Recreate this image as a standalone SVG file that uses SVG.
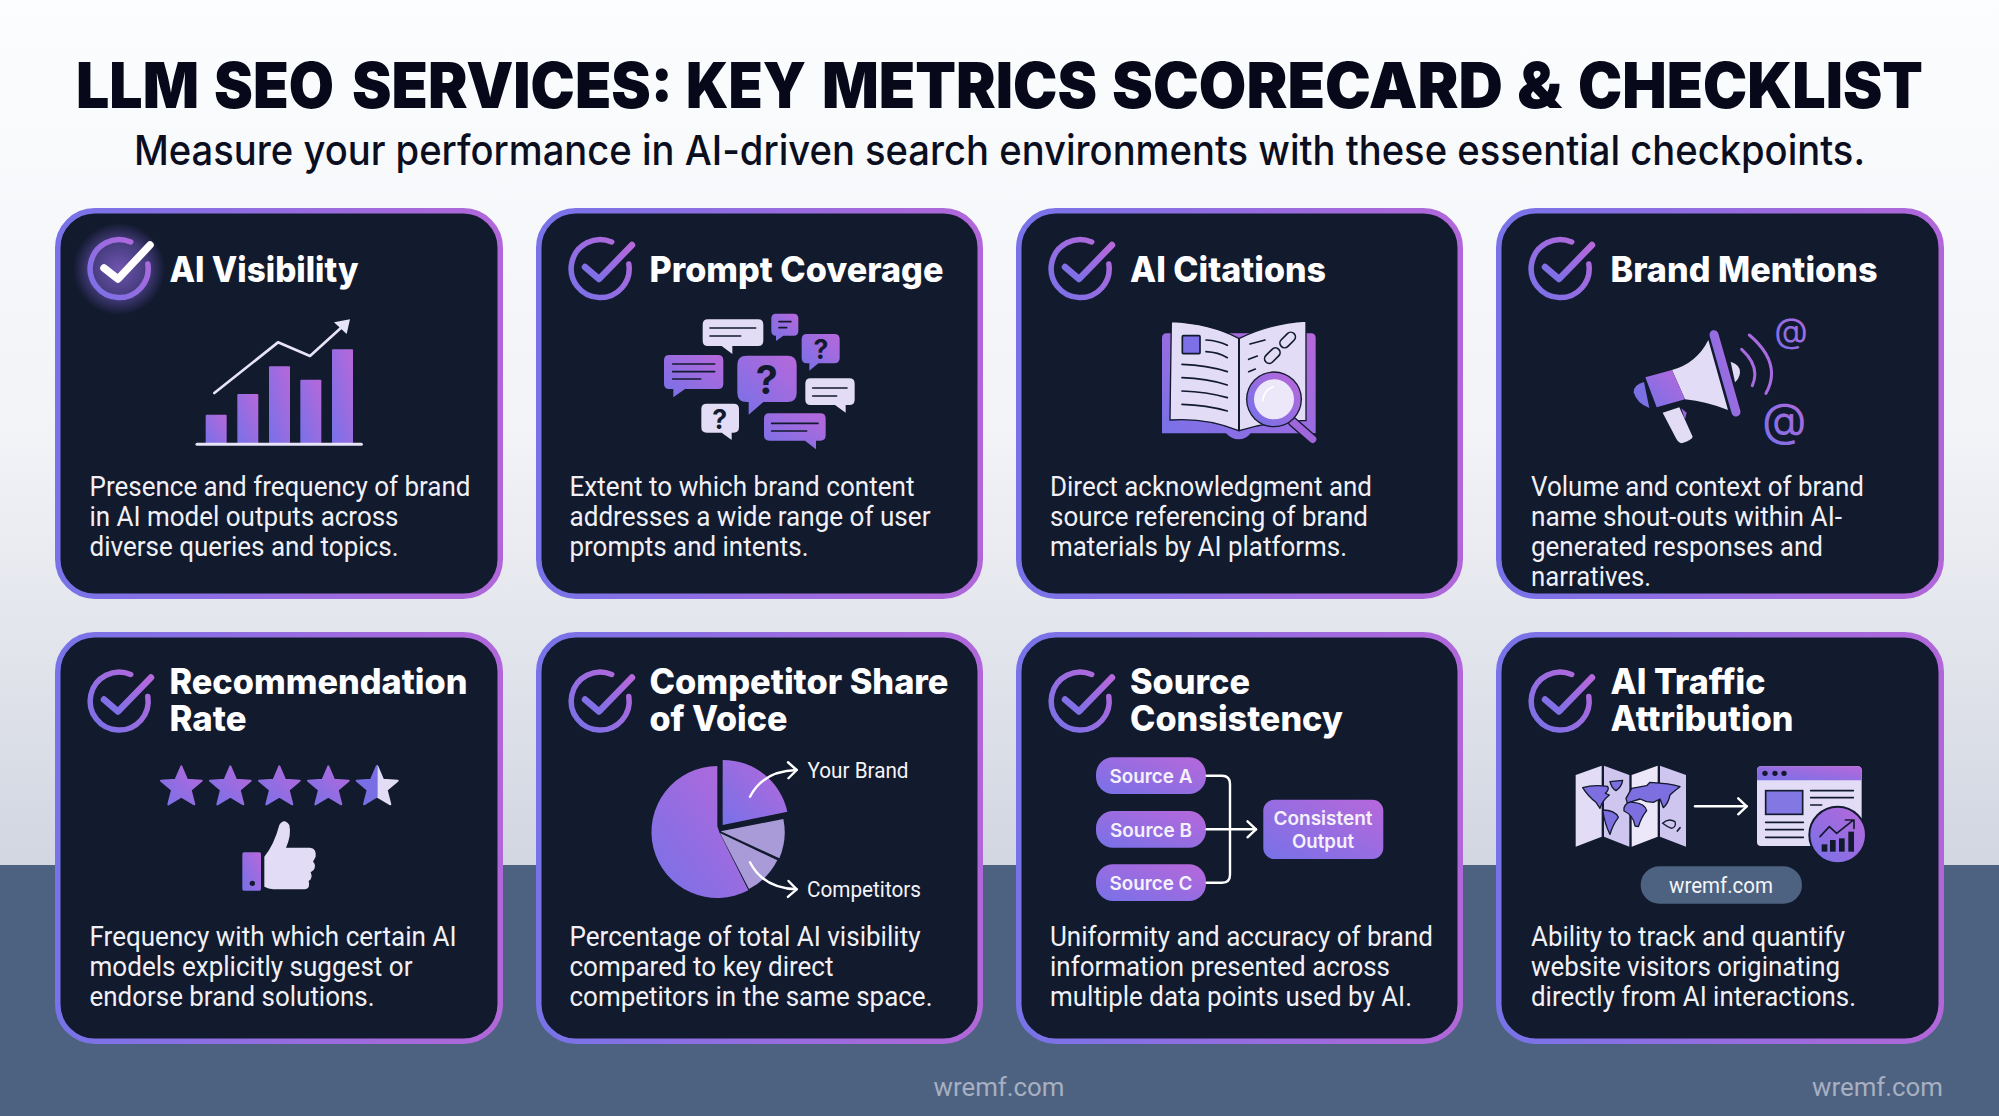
<svg xmlns="http://www.w3.org/2000/svg" width="1999" height="1116" viewBox="0 0 1999 1116">
<style>
text{font-family:"Roboto","Liberation Sans",sans-serif}
.h,.t,.lab,.sub{font-family:"Inter","Liberation Sans",sans-serif}
.h{font-size:63px;font-weight:900;fill:#07091a}
.sub{font-size:41px;font-weight:500;fill:#0b0e1e}
.card{fill:#121a2e;stroke:url(#border);stroke-width:5.5}
.t{font-size:35px;font-weight:800;fill:#fff}
.b{font-size:27px;fill:#f0f0f6}
.lab{font-size:19px;font-weight:600;fill:#f4f1fc;text-anchor:middle}
.cap{font-size:22px;fill:#f4f4f8}
.foot{font-size:26px;fill:#a7afc1}
.p{fill:url(#g)}
.l{fill:#e2dcf6}
.d{fill:none;stroke:#121a2e;stroke-width:5;stroke-linecap:round;stroke-linejoin:round}
.q{font-family:"Inter","Liberation Sans",sans-serif;font-weight:700;fill:#121a2e;text-anchor:middle}
.c{fill:none;stroke:#fff;stroke-width:2.4;stroke-linecap:round;stroke-linejoin:round}
</style>
<defs>
<linearGradient id="bg" x1="0" y1="0" x2="0" y2="1"><stop offset="0" stop-color="#fcfdfe"/><stop offset=".5" stop-color="#f2f3f7"/><stop offset="1" stop-color="#d2d6e1"/></linearGradient>
<linearGradient id="border" x1="0" y1="0" x2="1" y2="0"><stop offset="0" stop-color="#7873e8"/><stop offset="1" stop-color="#b167d9"/></linearGradient>
<linearGradient id="g" x1="0" y1="1" x2="1" y2="0"><stop offset="0" stop-color="#7771e8"/><stop offset="1" stop-color="#b768da"/></linearGradient>
<linearGradient id="g2" x1="0" y1="1" x2="0" y2="0"><stop offset="0" stop-color="#7b70e6"/><stop offset="1" stop-color="#ad68db"/></linearGradient>
<radialGradient id="glow"><stop offset="0" stop-color="#9a6ee8" stop-opacity=".7"/><stop offset=".65" stop-color="#8a6ae8" stop-opacity=".4"/><stop offset="1" stop-color="#8a6ae8" stop-opacity="0"/></radialGradient>
<marker id="chev" markerUnits="userSpaceOnUse" markerWidth="24" markerHeight="24" refX="12" refY="12" orient="auto" overflow="visible"><path d="M3.5 4 L12 12 L3.5 20" fill="none" stroke="#fff" stroke-width="2.4" stroke-linecap="round" stroke-linejoin="round"/></marker>
<g id="ring"><path d="M11.7 -27A29 29 0 1 0 28.8 -5" fill="none" stroke="url(#g)" stroke-width="5.5" stroke-linecap="round"/></g>
<g id="chk"><use href="#ring"/><path d="M-15 -2L-1 10L32 -24" fill="none" stroke="url(#g)" stroke-width="6.5" stroke-linecap="round" stroke-linejoin="round"/></g>
<path id="star" d="M0 -62L17 -22L61 -19L28 9L39 52L0 29L-39 52L-28 9L-61 -19L-17 -22Z" stroke-linejoin="round" stroke-width="6"/>
</defs>

<rect width="1999" height="865" fill="url(#bg)"/>
<rect y="865" width="1999" height="251" fill="#4d6280"/>

<g id="header">
<text class="h" y="108"><tspan x="76" textLength="123" lengthAdjust="spacingAndGlyphs">LLM</tspan> <tspan x="214" textLength="120" lengthAdjust="spacingAndGlyphs">SEO</tspan> <tspan x="352" textLength="321" lengthAdjust="spacingAndGlyphs">SERVICES:</tspan> <tspan x="686" textLength="120" lengthAdjust="spacingAndGlyphs">KEY</tspan> <tspan x="822" textLength="275" lengthAdjust="spacingAndGlyphs">METRICS</tspan> <tspan x="1112" textLength="391" lengthAdjust="spacingAndGlyphs">SCORECARD</tspan> <tspan x="1517" textLength="45" lengthAdjust="spacingAndGlyphs">&amp;</tspan> <tspan x="1578" textLength="345" lengthAdjust="spacingAndGlyphs">CHECKLIST</tspan></text>
<text class="sub" x="134" y="165" textLength="1731" lengthAdjust="spacingAndGlyphs">Measure your performance in AI-driven search environments with these essential checkpoints.</text>
</g>

<g id="card-ai-visibility">
<rect class="card" x="57.75" y="210.75" width="442.5" height="385.5" rx="37"/>
<circle cx="119" cy="269" r="46" fill="url(#glow)"/>
<use href="#ring" x="119" y="269"/>
<path d="M104 268L118 279L150 245" fill="none" stroke="#fff" stroke-width="7.5" stroke-linecap="round" stroke-linejoin="round"/>
<text class="t" x="169.5" y="282" textLength="189" lengthAdjust="spacingAndGlyphs">AI Visibility</text>
<g transform="translate(40 190) scale(.33333)">
<rect class="p" x="497" y="674" width="63" height="86" rx="3"/>
<rect class="p" x="592" y="612" width="63" height="148" rx="3"/>
<rect class="p" x="687" y="529" width="63" height="231" rx="3"/>
<rect class="p" x="781" y="569" width="63" height="191" rx="3"/>
<rect class="p" x="876" y="478" width="63" height="282" rx="3"/>
<path d="M471 763H964" stroke="#e8e4f8" stroke-width="9" stroke-linecap="round"/>
<path d="M523 609L714 457L810 498L905 412" fill="none" stroke="#e8e4f8" stroke-width="8" stroke-linecap="round" stroke-linejoin="round"/>
<path d="M930 388L882 397L920 432Z" fill="#e8e4f8"/>
</g>
<text class="b" x="89.5" y="496" textLength="381" lengthAdjust="spacingAndGlyphs">Presence and frequency of brand</text>
<text class="b" x="89.5" y="526" textLength="309" lengthAdjust="spacingAndGlyphs">in AI model outputs across</text>
<text class="b" x="89.5" y="556" textLength="309" lengthAdjust="spacingAndGlyphs">diverse queries and topics.</text>
</g>

<g id="card-prompt-coverage">
<rect class="card" x="538.75" y="210.75" width="441.5" height="385.5" rx="37"/>
<use href="#chk" x="600" y="269"/>
<text class="t" x="649.5" y="282" textLength="294" lengthAdjust="spacingAndGlyphs">Prompt Coverage</text>
<g transform="translate(530 190) scale(.33333)">
<path class="l" d="M534 388H684Q700 388 700 404V452Q700 468 684 468H607V492L575 468H534Q518 468 518 452V404Q518 388 534 388Z"/>
<path class="d" d="M540 414H677M540 438H632"/>
<path class="p" d="M738 371H791Q805 371 805 385V423Q805 437 791 437H760L738 453V437Q724 437 724 423V385Q724 371 738 371Z"/>
<path class="d" d="M747 395H783M747 413H770"/>
<path class="p" d="M831 432H913Q929 432 929 448V504Q929 520 913 520H865L838 542V520H831Q815 520 815 504V448Q815 432 831 432Z"/>
<text class="q" x="873" y="506" font-size="80">?</text>
<path class="p" d="M418 495H564Q580 495 580 511V581Q580 597 564 597H465L430 622V597H418Q402 597 402 581V511Q402 495 418 495Z"/>
<path class="d" d="M428 522H554M428 545H554M428 567H512"/>
<path class="p" d="M650 497H772Q800 497 800 525V608Q800 636 772 636H700L656 674V636H650Q622 636 622 608V525Q622 497 650 497Z"/>
<text class="q" x="710" y="612" font-size="118">?</text>
<path class="l" d="M842 565H958Q974 565 974 581V629Q974 645 958 645H947V668L915 645H842Q826 645 826 629V581Q826 565 842 565Z"/>
<path class="d" d="M848 594H951M848 618H920"/>
<path class="l" d="M530 641H611Q627 641 627 657V712Q627 728 611 728H605V750L575 728H530Q514 728 514 712V657Q514 641 530 641Z"/>
<text class="q" x="569" y="716" font-size="80">?</text>
<path class="p" d="M718 670H871Q887 670 887 686V736Q887 752 871 752H858V778L825 752H718Q702 752 702 736V686Q702 670 718 670Z"/>
<path class="d" d="M725 700H864M725 723H830"/>
</g>
<text class="b" x="569.5" y="496" textLength="345" lengthAdjust="spacingAndGlyphs">Extent to which brand content</text>
<text class="b" x="569.5" y="526" textLength="361" lengthAdjust="spacingAndGlyphs">addresses a wide range of user</text>
<text class="b" x="569.5" y="556" textLength="239" lengthAdjust="spacingAndGlyphs">prompts and intents.</text>
</g>

<g id="card-ai-citations">
<rect class="card" x="1018.75" y="210.75" width="441.5" height="385.5" rx="37"/>
<use href="#chk" x="1080" y="269"/>
<text class="t" x="1130" y="282" textLength="196" lengthAdjust="spacingAndGlyphs">AI Citations</text>
<g transform="translate(1010 190) scale(.33333)">
<path class="p" d="M470 430Q456 430 456 444V730H648Q665 748 685 748Q708 748 722 730H917V444Q917 430 903 430Z"/>
<path class="l" stroke="#121a2e" stroke-width="4" d="M484 395Q600 400 686 445V722Q590 682 480 690Z"/>
<path class="l" stroke="#121a2e" stroke-width="4" d="M688 445Q780 400 888 393V692Q790 690 688 722Z"/>
<rect x="517" y="437" width="53" height="54" rx="3" fill="#7d6fe6" stroke="#121a2e" stroke-width="5"/>
<path class="d" d="M588 450Q625 452 652 466M588 485Q625 487 652 503M516 523Q590 525 652 545M516 563Q590 565 652 585M516 603Q590 605 652 623M516 643Q590 645 652 663M720 462L765 450M716 508L742 498M716 545L736 537"/>
<g class="d"><rect x="806" y="436" width="54" height="28" rx="14" transform="rotate(-45 833 450)"/><rect x="760" y="483" width="54" height="28" rx="14" transform="rotate(-45 787 497)"/></g>
<path d="M848 695L908 748" stroke="#121a2e" stroke-width="30" stroke-linecap="round"/>
<path d="M848 695L908 748" stroke="#a066dc" stroke-width="22" stroke-linecap="round"/>
<circle cx="792" cy="628" r="84" fill="#121a2e"/>
<circle cx="792" cy="628" r="70" fill="#ece8fa" stroke="url(#g)" stroke-width="20"/>
<path d="M758 632Q762 600 790 590" fill="none" stroke="#fff" stroke-width="5" stroke-linecap="round"/>
</g>
<text class="b" x="1050" y="496" textLength="322" lengthAdjust="spacingAndGlyphs">Direct acknowledgment and</text>
<text class="b" x="1050" y="526" textLength="318" lengthAdjust="spacingAndGlyphs">source referencing of brand</text>
<text class="b" x="1050" y="556" textLength="297" lengthAdjust="spacingAndGlyphs">materials by AI platforms.</text>
</g>

<g id="card-brand-mentions">
<rect class="card" x="1498.75" y="210.75" width="442.5" height="385.5" rx="37"/>
<use href="#chk" x="1560" y="269"/>
<text class="t" x="1610.5" y="282" textLength="267" lengthAdjust="spacingAndGlyphs">Brand Mentions</text>
<g transform="translate(1490 190) scale(.33333)">
<path class="l" d="M722 515Q752 525 750 548Q748 565 735 577Z"/>
<path d="M672 434L738 666" stroke="url(#g)" stroke-width="27" stroke-linecap="round"/>
<path class="l" d="M655 450Q620 520 546 540L585 628Q650 635 714 660Z"/>
<path class="p" d="M546 540L466 562L500 652L585 628Z"/>
<path d="M462 576Q430 585 431 607Q440 640 478 654Z" fill="#7c70e5"/>
<path class="l" d="M518 668L568 652L608 740Q606 750 575 760Q565 758 558 745Z"/>
<path d="M574 655L590 668L585 688Z" fill="#a066dc"/>
<path d="M755 478Q812 530 787 587M778 435Q878 520 828 610" fill="none" stroke="#a86adf" stroke-width="9" stroke-linecap="round"/>
<text x="903" y="458" font-size="104" text-anchor="middle" fill="url(#g)" style="font-family:Inter,'Liberation Sans',sans-serif">@</text>
<text x="883" y="737" font-size="138" text-anchor="middle" fill="url(#g)" style="font-family:Inter,'Liberation Sans',sans-serif">@</text>
</g>
<text class="b" x="1531" y="496" textLength="333" lengthAdjust="spacingAndGlyphs">Volume and context of brand</text>
<text class="b" x="1531" y="526" textLength="311" lengthAdjust="spacingAndGlyphs">name shout-outs within AI-</text>
<text class="b" x="1531" y="556" textLength="292" lengthAdjust="spacingAndGlyphs">generated responses and</text>
<text class="b" x="1531" y="586" textLength="120" lengthAdjust="spacingAndGlyphs">narratives.</text>
</g>

<g id="card-recommendation-rate">
<rect class="card" x="57.75" y="634.75" width="442.5" height="406.5" rx="37"/>
<use href="#chk" x="119" y="701.5"/>
<text class="t" x="169.5" y="694" textLength="298" lengthAdjust="spacingAndGlyphs">Recommendation</text>
<text class="t" x="169.5" y="730.5" textLength="77" lengthAdjust="spacingAndGlyphs">Rate</text>
<g transform="translate(40 625) scale(.33333)">
<use href="#star" x="424" y="486" fill="url(#g)" stroke="url(#g)"/>
<use href="#star" x="571" y="486" fill="url(#g)" stroke="url(#g)"/>
<use href="#star" x="718" y="486" fill="url(#g)" stroke="url(#g)"/>
<use href="#star" x="865" y="486" fill="url(#g)" stroke="url(#g)"/>
<path d="M1012 424L1029 464L1073 467L1040 495L1051 538L1012 515Z" fill="#e2dcf6" stroke="#e2dcf6" stroke-width="6" stroke-linejoin="round"/>
<path d="M1010 424L993 464L950 467L983 495L972 538L1010 515Z" fill="#7a6ee4" stroke="#7a6ee4" stroke-width="6" stroke-linejoin="round"/>
<rect class="p" x="607" y="682" width="56" height="115" rx="5"/>
<circle cx="637" cy="775" r="8" fill="#121a2e"/>
<path class="l" d="M673 695Q702 660 718 600Q732 578 748 600Q755 630 738 668H810Q830 670 827 695L819 710Q830 720 821 735L812 742Q820 760 806 768Q812 790 795 793H700Q685 792 673 785Z"/>
</g>
<text class="b" x="89.5" y="946" textLength="367" lengthAdjust="spacingAndGlyphs">Frequency with which certain AI</text>
<text class="b" x="89.5" y="976" textLength="323" lengthAdjust="spacingAndGlyphs">models explicitly suggest or</text>
<text class="b" x="89.5" y="1006" textLength="285" lengthAdjust="spacingAndGlyphs">endorse brand solutions.</text>
</g>

<g id="card-competitor-share">
<rect class="card" x="538.75" y="634.75" width="441.5" height="406.5" rx="37"/>
<use href="#chk" x="600" y="701.5"/>
<text class="t" x="649.5" y="694" textLength="299" lengthAdjust="spacingAndGlyphs">Competitor Share</text>
<text class="t" x="649.5" y="730.5" textLength="138" lengthAdjust="spacingAndGlyphs">of Voice</text>
<g transform="translate(530 625) scale(.33333)">
<path class="p" d="M562 423A198 198 0 1 0 655 796L568 622L562 604Z"/>
<path class="p" d="M578 405A197 197 0 0 1 772 560L578 600Z"/>
<path d="M572 619L760 582A197 197 0 0 1 748 700Z" fill="#a99bd8"/>
<path d="M570 624L742 706A197 197 0 0 1 657 792Z" fill="#a99bd8"/>
</g>
<text class="cap" x="807.5" y="777.5" textLength="101" lengthAdjust="spacingAndGlyphs">Your Brand</text>
<text class="cap" x="807" y="896.5" textLength="114" lengthAdjust="spacingAndGlyphs">Competitors</text>
<text class="b" x="569.5" y="946" textLength="351" lengthAdjust="spacingAndGlyphs">Percentage of total AI visibility</text>
<text class="b" x="569.5" y="976" textLength="264" lengthAdjust="spacingAndGlyphs">compared to key direct</text>
<text class="b" x="569.5" y="1006" textLength="363" lengthAdjust="spacingAndGlyphs">competitors in the same space.</text>
</g>

<g id="card-source-consistency">
<rect class="card" x="1018.75" y="634.75" width="441.5" height="406.5" rx="37"/>
<use href="#chk" x="1080" y="701.5"/>
<text class="t" x="1130" y="694" textLength="120" lengthAdjust="spacingAndGlyphs">Source</text>
<text class="t" x="1130" y="730.5" textLength="213" lengthAdjust="spacingAndGlyphs">Consistency</text>
<g id="node-source-a"><rect class="p" x="1096" y="757.3" width="110" height="36.7" rx="17"/><text class="lab" x="1151" y="782.5" textLength="83" lengthAdjust="spacingAndGlyphs">Source A</text></g>
<g id="node-source-b"><rect class="p" x="1096" y="811" width="110" height="36.7" rx="17"/><text class="lab" x="1151" y="836.5" textLength="82" lengthAdjust="spacingAndGlyphs">Source B</text></g>
<g id="node-source-c"><rect class="p" x="1096" y="864.3" width="110" height="36.7" rx="17"/><text class="lab" x="1151" y="889.5" textLength="83" lengthAdjust="spacingAndGlyphs">Source C</text></g>
<g id="node-output"><rect class="p" x="1263.3" y="799.7" width="120" height="59.3" rx="11"/><text class="lab" x="1323" y="825" textLength="99" lengthAdjust="spacingAndGlyphs">Consistent</text><text class="lab" x="1323" y="848" textLength="62" lengthAdjust="spacingAndGlyphs">Output</text></g>
<text class="b" x="1050" y="946" textLength="383" lengthAdjust="spacingAndGlyphs">Uniformity and accuracy of brand</text>
<text class="b" x="1050" y="976" textLength="340" lengthAdjust="spacingAndGlyphs">information presented across</text>
<text class="b" x="1050" y="1006" textLength="362" lengthAdjust="spacingAndGlyphs">multiple data points used by AI.</text>
</g>

<g id="card-ai-traffic">
<rect class="card" x="1498.75" y="634.75" width="442.5" height="406.5" rx="37"/>
<use href="#chk" x="1560" y="701.5"/>
<text class="t" x="1610.5" y="694" textLength="155" lengthAdjust="spacingAndGlyphs">AI Traffic</text>
<text class="t" x="1610.5" y="730.5" textLength="183" lengthAdjust="spacingAndGlyphs">Attribution</text>
<g transform="translate(1490 625) scale(.33333)">
<path class="l" d="M257 450L335 422V635L257 665Z"/>
<path fill="#cfc6ef" d="M342 422L418 450V665L342 635Z"/>
<path fill="#ece8fa" d="M425 450L503 422V635L425 665Z"/>
<path fill="#cfc6ef" d="M510 422L588 450V665L510 635Z"/>
<g fill="#7d6fe0" stroke="#121a2e" stroke-width="4" stroke-linejoin="round">
<path d="M278 488Q310 478 352 484Q360 492 346 505L358 510Q336 528 330 550L318 532Q295 515 278 488Z"/>
<path d="M338 555Q375 555 385 577Q368 600 360 628Q345 600 338 555Z"/>
<path d="M360 470L398 466Q395 485 378 497Q365 490 360 470Z"/>
<path d="M408 520L425 490L470 482L480 472Q540 475 570 485Q550 500 540 510Q535 535 520 548L510 522L490 532L470 530L450 522L425 530L412 535Z"/>
<path d="M402 548Q410 528 430 532Q465 535 470 557Q455 575 445 605L435 603Q430 570 402 558Z"/>
</g>
<path d="M518 595Q535 578 555 590Q560 605 545 610Q530 605 518 595Z" fill="#cfc6ef" stroke="#121a2e" stroke-width="4"/>
<path class="d" d="M562 618L570 608"/>
<rect class="l" x="801" y="424" width="314" height="239" rx="12"/>
<path class="p" d="M813 424H1103Q1115 424 1115 436V466H801V436Q801 424 813 424Z"/>
<g fill="#121a2e"><circle cx="825" cy="445" r="8"/><circle cx="855" cy="445" r="8"/><circle cx="882" cy="445" r="8"/></g>
<rect x="827" y="497" width="111" height="71" fill="#8377e4" stroke="#121a2e" stroke-width="5"/>
<path class="d" d="M962 497H1090M962 518H1090M962 540H995M827 592H940M827 614H940M827 637H940"/>
<circle class="p" cx="1043" cy="630" r="85" stroke="#121a2e" stroke-width="6"/>
<g fill="#121a2e"><rect x="995" y="658" width="17" height="22"/><rect x="1020" y="645" width="17" height="35"/><rect x="1047" y="640" width="17" height="40"/><rect x="1075" y="620" width="17" height="60"/></g>
<path class="d" d="M990 635L1018 605L1040 625L1088 587M1066 585H1092V610"/>
<rect x="452" y="724" width="484" height="112" rx="56" fill="#4d6280"/>
</g>
<text x="1721" y="892.5" text-anchor="middle" font-size="22" fill="#f4f4f8" textLength="104" lengthAdjust="spacingAndGlyphs">wremf.com</text>
<text class="b" x="1531" y="946" textLength="314" lengthAdjust="spacingAndGlyphs">Ability to track and quantify</text>
<text class="b" x="1531" y="976" textLength="309" lengthAdjust="spacingAndGlyphs">website visitors originating</text>
<text class="b" x="1531" y="1006" textLength="325" lengthAdjust="spacingAndGlyphs">directly from AI interactions.</text>
</g>

<g id="connectors">
<path class="c" marker-end="url(#chev)" d="M750 796.7Q763 771 796.7 770"/>
<path class="c" marker-end="url(#chev)" d="M750 862.3Q763 888 796.7 889.3"/>
<path class="c" d="M1206.7 775.7H1222Q1230 775.7 1230 784V874.7Q1230 882.7 1222 882.7H1206.7"/>
<path class="c" marker-end="url(#chev)" d="M1206.7 829.3H1256"/>
<path class="c" marker-end="url(#chev)" d="M1695 806.3H1746.7"/>
</g>

<g id="footer">
<text class="foot" x="933.5" y="1095.5" textLength="131" lengthAdjust="spacingAndGlyphs">wremf.com</text>
<text class="foot" x="1812" y="1095.5" textLength="131" lengthAdjust="spacingAndGlyphs">wremf.com</text>
</g>
</svg>
